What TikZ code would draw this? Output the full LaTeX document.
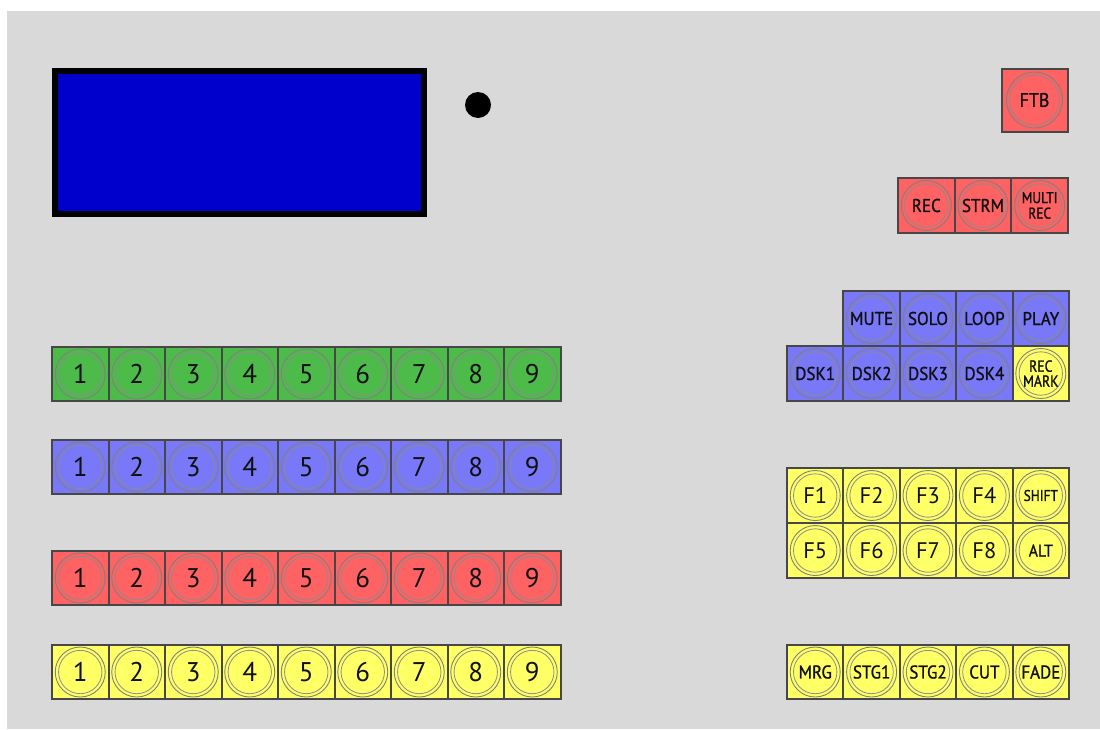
\documentclass[tikz,border=0pt]{standalone}
\usepackage{fontspec}
\setmainfont{PT Sans}
\newfontfamily\lblfont[FakeBold=1.1,FakeStretch=0.92]{PT Sans}
\newfontfamily\smlfont[FakeBold=1.3,FakeStretch=0.86]{PT Sans}
\definecolor{panel}{HTML}{D9D9D9}
\definecolor{scr}{HTML}{0000CC}
\definecolor{bgreen}{HTML}{4DBB4A}
\definecolor{bblue}{HTML}{7878F8}
\definecolor{bred}{HTML}{FF6262}
\definecolor{byellow}{HTML}{FFFF66}
\definecolor{txt}{HTML}{101010}
\tikzset{
  btn/.style={draw=black!72, line width=2pt, minimum width=56.5pt, minimum height=54pt,
    inner sep=0pt, text=txt, align=center,
    path picture={
      \draw[black!50, line width=0.9pt] (path picture bounding box.center) circle (25pt);
      \draw[black!45, line width=0.8pt] (path picture bounding box.center) circle (21.7pt);
    }},
  num/.style={btn, font=\fontsize{27}{27}\selectfont},
  fkey/.style={btn, minimum width=56.4pt, minimum height=55pt, font=\fontsize{22.5}{22}\selectfont},
  lbl/.style={btn, font=\lblfont\fontsize{18.5}{15}\selectfont},
  small/.style={btn, font=\smlfont\fontsize{15.5}{15.5}\selectfont},
}
\begin{document}
\begin{tikzpicture}[x=1pt,y=-1pt]
\useasboundingbox (0,0) rectangle (1100,729);
\fill[white] (0,0) rectangle (1100,729);
\fill[panel] (7,11) rectangle (1100,729);
% screen
\node[draw=black, line width=6pt, fill=scr, minimum width=369pt, minimum height=143pt, inner sep=0pt] (screen) at (239.5,142.5) {};
\node[circle, fill=black, minimum size=26pt, inner sep=0pt] (dot) at (478,105) {};
% rows
\foreach \c/\y/\r in {bgreen/374/g, bblue/467/b, bred/578/r, byellow/672/y}{
  \foreach \i in {1,...,9}{
    \node[num, fill=\c] (\r\i) at ({52+56.5*(\i-0.5)},\y) {\i};
  }
}
% FTB
\node[lbl, fill=bred, minimum width=66pt, minimum height=63pt, font=\lblfont\fontsize{19.5}{18}\selectfont,
  path picture={
      \draw[black!50, line width=0.9pt] (path picture bounding box.center) circle (28pt);
      \draw[black!45, line width=0.8pt] (path picture bounding box.center) circle (25pt);
    }] (ftb) at (1034.5,100) {FTB};
% REC row
\node[lbl, fill=bred, minimum width=56.7pt, minimum height=55pt] (rec) at (926.3,205.5) {REC};
\node[lbl, fill=bred, minimum width=56.7pt, minimum height=55pt] (strm) at (983,205.5) {STRM};
\node[small, fill=bred, minimum width=56.7pt, minimum height=55pt] (multirec) at (1039.7,205.5) {MULTI\\REC};
% MUTE row
\node[lbl, fill=bblue, minimum width=56.4pt, minimum height=55pt] (mute) at (871.6,318.5) {MUTE};
\node[lbl, fill=bblue, minimum width=56.4pt, minimum height=55pt] (solo) at (928,318.5) {SOLO};
\node[lbl, fill=bblue, minimum width=56.4pt, minimum height=55pt] (loop) at (984.4,318.5) {LOOP};
\node[lbl, fill=bblue, minimum width=56.4pt, minimum height=55pt] (play) at (1040.8,318.5) {PLAY};
% DSK row
\node[lbl, fill=bblue, minimum width=56.4pt, minimum height=55pt] (dsk1) at (815.2,373.5) {DSK1};
\node[lbl, fill=bblue, minimum width=56.4pt, minimum height=55pt] (dsk2) at (871.6,373.5) {DSK2};
\node[lbl, fill=bblue, minimum width=56.4pt, minimum height=55pt] (dsk3) at (928,373.5) {DSK3};
\node[lbl, fill=bblue, minimum width=56.4pt, minimum height=55pt] (dsk4) at (984.4,373.5) {DSK4};
\node[small, fill=byellow, minimum width=56.4pt, minimum height=55pt, font=\smlfont\fontsize{16}{15}\selectfont] (recmark) at (1040.8,373.5) {REC\\MARK};
% F rows
\node[fkey, fill=byellow] (f1) at (815.2,495.5) {F1};
\node[fkey, fill=byellow] (f2) at (871.6,495.5) {F2};
\node[fkey, fill=byellow] (f3) at (928,495.5) {F3};
\node[fkey, fill=byellow] (f4) at (984.4,495.5) {F4};
\node[small, fill=byellow, minimum width=56.4pt, minimum height=55pt] (shift) at (1040.8,495.5) {SHIFT};
\node[fkey, fill=byellow] (f5) at (815.2,550.5) {F5};
\node[fkey, fill=byellow] (f6) at (871.6,550.5) {F6};
\node[fkey, fill=byellow] (f7) at (928,550.5) {F7};
\node[fkey, fill=byellow] (f8) at (984.4,550.5) {F8};
\node[lbl, fill=byellow, minimum width=56.4pt, minimum height=55pt, font=\lblfont\fontsize{17}{15}\selectfont] (alt) at (1040.8,550.5) {ALT};
% bottom row
\node[lbl, fill=byellow, minimum width=56.4pt] (mrg) at (815.2,672) {MRG};
\node[lbl, fill=byellow, minimum width=56.4pt] (stg1) at (871.6,672) {STG1};
\node[lbl, fill=byellow, minimum width=56.4pt] (stg2) at (928,672) {STG2};
\node[lbl, fill=byellow, minimum width=56.4pt] (cut) at (984.4,672) {CUT};
\node[lbl, fill=byellow, minimum width=56.4pt] (fade) at (1040.8,672) {FADE};
\end{tikzpicture}
\end{document}
